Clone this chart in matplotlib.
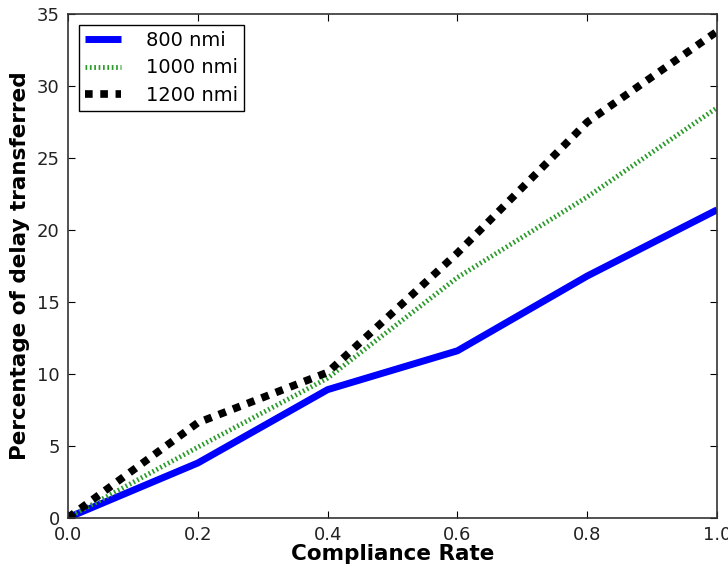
import matplotlib
matplotlib.use("Agg")
import matplotlib.pyplot as plt

compliance = [0.0, 0.2, 0.4, 0.6, 0.8, 1.0]
delay_800 = [0.0, 3.8, 8.9, 11.6, 16.8, 21.4]
delay_1000 = [0.0, 4.9, 9.7, 16.7, 22.3, 28.5]
delay_1200 = [0.0, 6.6, 10.1, 18.4, 27.5, 33.8]
labels = ["800 nmi", "1000 nmi", "1200 nmi"]

fig = plt.figure(figsize=(7.28, 5.67), dpi=100)
ax = fig.add_axes([0.0934, 0.087, 0.8916, 0.888])

ax.plot(compliance, delay_800, color="#0000ff", lw=5, solid_capstyle="butt", label=labels[0])
ax.plot(compliance, delay_1000, color="#2a9a2a", lw=3.5, dashes=(0.35, 0.55), label=labels[1])
ax.plot(compliance, delay_1200, color="black", lw=5.5, dashes=(1, 1), label=labels[2])

ax.set_xlim(0, 1)
ax.set_ylim(0, 35)
ax.set_xticks([0.0, 0.2, 0.4, 0.6, 0.8, 1.0])
ax.set_yticks(range(0, 36, 5))
ax.tick_params(direction="in", top=True, right=True, length=5, labelsize=13, pad=6,
               labelcolor="#222222")
for s in ax.spines.values():
    s.set_linewidth(1.2)
    s.set_color("#333333")

ax.set_xlabel("Compliance Rate", fontsize=15.5, fontweight="bold", labelpad=0)
ax.set_ylabel("Percentage of delay transferred", fontsize=15.5, fontweight="bold", labelpad=5)

leg = ax.legend(loc="upper left", fontsize=14, fancybox=False, framealpha=1,
                edgecolor="black", handlelength=1.9, handletextpad=1.25, borderpad=0.3,
                labelspacing=0.45, borderaxespad=0.55)
leg.get_frame().set_linewidth(1.0)

fig.savefig("out.png", dpi=100)
